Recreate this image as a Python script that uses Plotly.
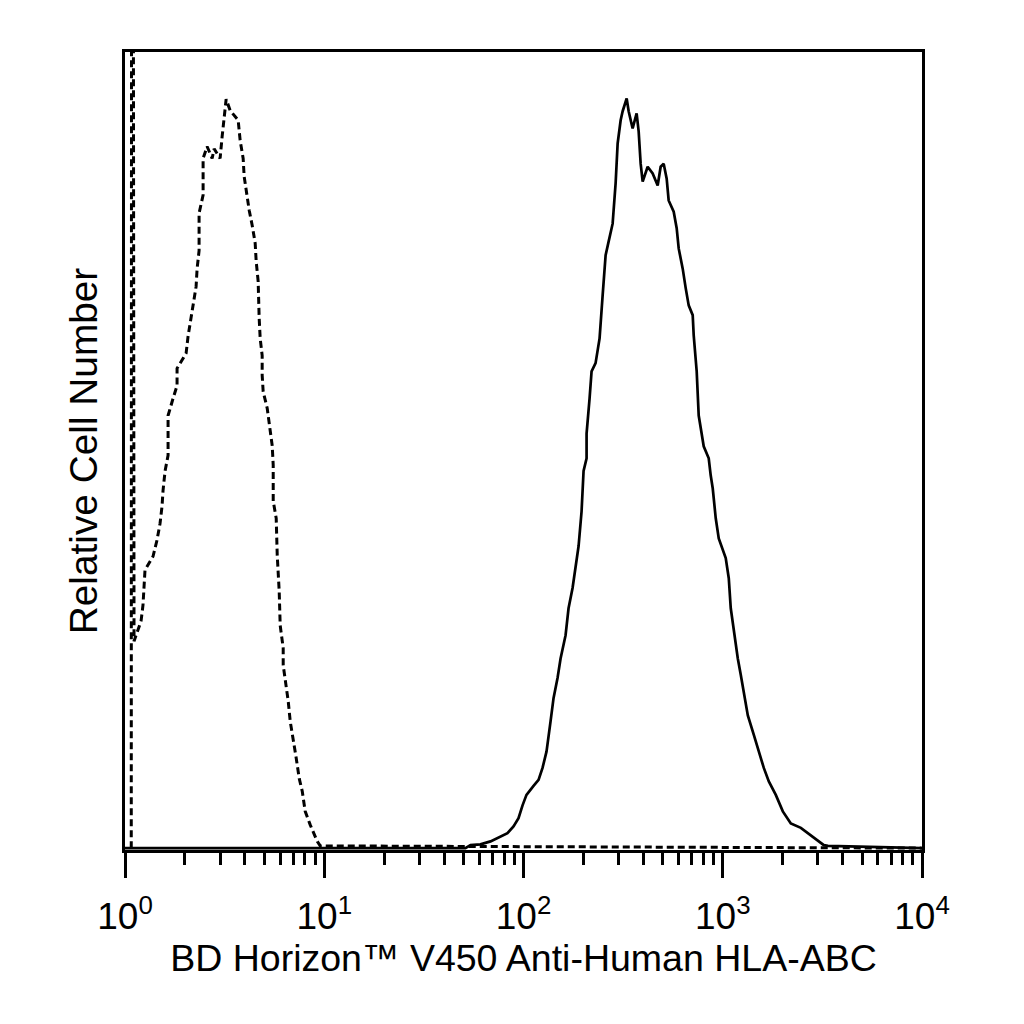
import plotly.graph_objects as go

# isotype control (dashed) - fluorescence intensity vs relative count
dashed_x = [
    1.075, 1.084, 1.11, 1.204, 1.231, 1.26, 1.382, 1.448, 1.499, 1.534, 1.552,
    1.589, 1.645, 1.645, 1.645, 1.743, 1.825, 1.825, 2.026, 2.073, 2.146,
    2.196, 2.274, 2.301, 2.354, 2.354, 2.354, 2.466, 2.466, 2.466, 2.583,
    2.737, 2.801, 3.001, 3.072, 3.145, 3.218, 3.371, 3.698, 3.784, 3.917,
    3.963, 4.056, 4.2, 4.347, 4.501, 4.553, 4.659, 4.714, 4.769, 4.88,
    4.88, 4.937, 5.171, 5.48, 5.544, 5.544, 5.74, 5.807, 5.941, 6.01,
    6.223, 6.223, 6.442, 6.594, 6.749, 6.987, 7.234, 7.487, 7.752, 8.025,
    8.504, 9.222, 9.548, 10000,
]
dashed_y = [
    0, 300, 27.6, 30.3, 32.4, 37.1, 38.9, 41.1, 43.3, 45.6, 47.7,
    50.3, 52.4, 54.9, 57.7, 60.0, 61.7, 64.0, 66.0, 68.3, 70.7,
    72.4, 74.9, 77.3, 79.7, 82.3, 84.7, 87.1, 89.7, 92.0, 93.6,
    92.0, 93.3, 92.0, 94.9, 97.3, 99.9, 98.4, 97.1, 94.4, 92.0,
    89.6, 87.6, 85.1, 83.1, 80.7, 78.3, 75.6, 70.7, 68.0, 65.7,
    63.1, 60.9, 58.7, 53.7, 51.1, 46.3, 44.0, 39.1, 34.3, 29.7,
    26.7, 24.4, 21.7, 19.6, 16.9, 14.7, 12.0, 9.3, 7.6, 4.9,
    3.1, 0.9, 0.3, 0,
]

# HLA-ABC stained (solid)
solid_x = [
    1, 51.1, 54.2, 60.8, 68.3, 76.6, 83.1, 89.1, 94.4, 98.9, 103.5,
    112.3, 119.0, 124.6, 130.5, 136.7, 141.5, 148.2, 153.5, 162.6, 168.3,
    176.3, 182.5, 189.0, 195.6, 200.2, 207.3, 207.3, 214.6, 219.6, 230.0,
    240.9, 249.5, 258.3, 267.4, 280.1, 290.0, 296.8, 307.3, 314.5, 329.4,
    337.1, 352.9, 369.6, 378.4, 387.2, 396.3, 419.9, 444.9, 471.4, 488.0,
    505.3, 523.1, 535.3, 567.3, 587.2, 601.0, 629.5, 651.7, 674.7, 706.6,
    714.9, 740.0, 757.4, 802.5, 850.3, 870.3, 890.6, 922.2, 954.8, 1035,
    1072, 1097, 1136, 1190, 1232, 1275, 1336, 1432, 1517, 1607,
    1703, 1846, 2002, 2196, 2466, 2768, 3037, 3217, 3371, 10000,
]
solid_y = [
    0, 0, 0.4, 0.5, 0.9, 1.5, 2.0, 2.9, 4.0, 5.7, 7.1,
    8.3, 9.1, 10.7, 12.9, 16.9, 20.0, 22.7, 25.3, 28.4, 32.0,
    34.7, 37.3, 40.3, 44.9, 50.3, 52.0, 55.3, 60.0, 63.6, 64.7,
    68.0, 73.7, 79.1, 80.9, 83.3, 88.7, 94.0, 97.1, 98.3, 100.0,
    98.3, 96.0, 98.0, 95.6, 91.3, 88.9, 90.9, 90.0, 88.4, 90.9,
    91.3, 89.3, 86.4, 84.9, 82.7, 80.0, 77.3, 74.7, 72.4, 71.1,
    68.4, 63.6, 57.7, 53.6, 52.0, 49.7, 48.0, 44.0, 41.3, 38.7,
    36.0, 32.0, 28.9, 25.3, 23.1, 20.9, 17.7, 15.1, 12.9, 10.7,
    8.9, 7.1, 4.9, 3.3, 2.7, 1.7, 0.9, 0.4, 0.3, 0,
]

tick_vals = [1, 10, 100, 1000, 10000]
tick_text = ["10<sup>0</sup>", "10<sup>1</sup>", "10<sup>2</sup>",
             "10<sup>3</sup>", "10<sup>4</sup>"]

x_title = "BD Horizon™ V450 Anti-Human HLA-ABC"
y_title = "Relative Cell Number"

FONT = "Liberation Sans, Arial, sans-serif"

fig = go.Figure()
fig.add_trace(go.Scatter(
    x=solid_x, y=solid_y, mode="lines",
    line=dict(color="black", width=2.7),
    hoverinfo="skip",
))
fig.add_trace(go.Scatter(
    x=dashed_x, y=dashed_y, mode="lines",
    line=dict(color="black", width=3, dash="7px,4px"),
    hoverinfo="skip",
))

# the page body adds an 8px offset, margins account for it
fig.update_layout(
    width=1024, height=1024,
    margin=dict(l=117, r=110, t=44, b=182),
    paper_bgcolor="white", plot_bgcolor="white",
    showlegend=False,
    font=dict(family=FONT, color="black", size=36),
)
fig.update_xaxes(
    type="log", range=[0, 4],
    tickmode="array", tickvals=tick_vals, ticktext=tick_text,
    ticks="outside", ticklen=25, tickwidth=3, tickcolor="black",
    tickfont=dict(size=37), ticklabelstandoff=7,
    minor=dict(ticks="outside", ticklen=12, tickwidth=2.5, tickcolor="black",
               dtick="D1", showgrid=False),
    showline=True, linecolor="black", linewidth=3, mirror=True,
    showgrid=False, zeroline=False,
    title=dict(text=x_title, font=dict(size=37.5), standoff=2),
)
fig.update_yaxes(
    range=[-0.25, 106.2],
    showticklabels=False, ticks="",
    showline=True, linecolor="black", linewidth=3, mirror=True,
    showgrid=False, zeroline=False,
    title=dict(text=y_title, font=dict(size=38.8), standoff=13),
)

fig.write_html("out.html")
